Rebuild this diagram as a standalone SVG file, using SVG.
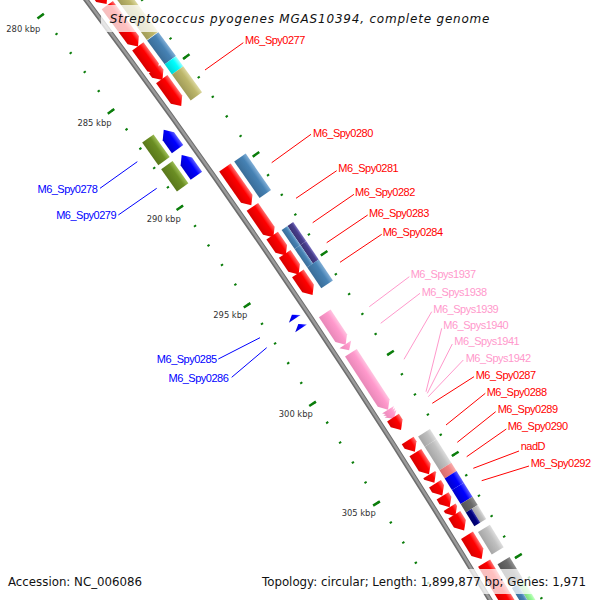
<svg xmlns="http://www.w3.org/2000/svg" width="600" height="600" viewBox="0 0 600 600">
<defs>
<linearGradient id="gR" x1="0" y1="0" x2="0" y2="1"><stop offset="0" stop-color="#ff7070"/><stop offset="0.35" stop-color="#ff0000"/><stop offset="1" stop-color="#d80000"/></linearGradient>
<linearGradient id="gP" x1="0" y1="0" x2="0" y2="1"><stop offset="0" stop-color="#ffc4e1"/><stop offset="0.35" stop-color="#ff99cc"/><stop offset="1" stop-color="#e888b8"/></linearGradient>
<linearGradient id="gB" x1="0" y1="0" x2="0" y2="1"><stop offset="0" stop-color="#6060ff"/><stop offset="0.35" stop-color="#0000ff"/><stop offset="1" stop-color="#0000cc"/></linearGradient>
<linearGradient id="gSB" x1="0" y1="0" x2="0" y2="1"><stop offset="0" stop-color="#80aed6"/><stop offset="0.35" stop-color="#4682b4"/><stop offset="1" stop-color="#3a6d98"/></linearGradient>
<linearGradient id="gK" x1="0" y1="0" x2="0" y2="1"><stop offset="0" stop-color="#dcd8a0"/><stop offset="0.35" stop-color="#bdb76b"/><stop offset="1" stop-color="#a09b58"/></linearGradient>
<linearGradient id="gC" x1="0" y1="0" x2="0" y2="1"><stop offset="0" stop-color="#9affff"/><stop offset="0.35" stop-color="#00ffff"/><stop offset="1" stop-color="#00d4d4"/></linearGradient>
<linearGradient id="gO" x1="0" y1="0" x2="0" y2="1"><stop offset="0" stop-color="#9cbd55"/><stop offset="0.35" stop-color="#6b8e23"/><stop offset="1" stop-color="#5a781c"/></linearGradient>
<linearGradient id="gD" x1="0" y1="0" x2="0" y2="1"><stop offset="0" stop-color="#7a6fc0"/><stop offset="0.35" stop-color="#483d8b"/><stop offset="1" stop-color="#3b3273"/></linearGradient>
<linearGradient id="gS" x1="0" y1="0" x2="0" y2="1"><stop offset="0" stop-color="#dedede"/><stop offset="0.35" stop-color="#c0c0c0"/><stop offset="1" stop-color="#a6a6a6"/></linearGradient>
<linearGradient id="gLC" x1="0" y1="0" x2="0" y2="1"><stop offset="0" stop-color="#f7b0b0"/><stop offset="0.35" stop-color="#f08080"/><stop offset="1" stop-color="#d66e6e"/></linearGradient>
<linearGradient id="gDG" x1="0" y1="0" x2="0" y2="1"><stop offset="0" stop-color="#909090"/><stop offset="0.35" stop-color="#696969"/><stop offset="1" stop-color="#555555"/></linearGradient>
<linearGradient id="gN" x1="0" y1="0" x2="0" y2="1"><stop offset="0" stop-color="#3c3ca8"/><stop offset="0.35" stop-color="#000080"/><stop offset="1" stop-color="#00006a"/></linearGradient>
<linearGradient id="gPG" x1="0" y1="0" x2="0" y2="1"><stop offset="0" stop-color="#c8fdc8"/><stop offset="0.35" stop-color="#98fb98"/><stop offset="1" stop-color="#7fd67f"/></linearGradient>
</defs>
<style>
.lbl{font-family:"Liberation Sans",Arial,sans-serif;font-size:11px;letter-spacing:-0.5px}
.lr{fill:#ff0000}.lb{fill:#0000ff;text-anchor:end}.lp{fill:#ff99cc}
.cr{stroke:#ff0000}.cb{stroke:#0000ff}.cp{stroke:#ff99cc}
#connectors line{stroke-width:1}
.kb{font-family:"DejaVu Sans",sans-serif;font-size:8.4px;fill:#333;text-anchor:middle}
.tick{fill:none;stroke:#0b7d0b}
.hd{font-family:"DejaVu Sans",sans-serif;fill:#111}
</style>
<rect width="600" height="600" fill="#ffffff"/>

<g id="rulers" transform="translate(-5681.7 4319.7)">
<circle r="7162" transform="rotate(-37.89135)" class="tick" stroke-width="2.5" stroke-dasharray="2 21.6859" stroke-dashoffset="1"/>
<circle r="7160" transform="rotate(-37.89135)" class="tick" stroke-width="8" stroke-dasharray="2.5 115.896" stroke-dashoffset="1.25"/>
<circle r="7251" transform="rotate(-37.89135)" class="tick" stroke-width="2.5" stroke-dasharray="2 21.9802" stroke-dashoffset="1"/>
<circle r="7253" transform="rotate(-37.89135)" class="tick" stroke-width="8" stroke-dasharray="2.5 117.434" stroke-dashoffset="1.25"/>
</g>
<g id="ruler-labels">
<text class="kb" x="23.3" y="31.7">280 kbp</text>
<text class="kb" x="94.5" y="126">285 kbp</text>
<text class="kb" x="163.7" y="221.7">290 kbp</text>
<text class="kb" x="230.3" y="318.3">295 kbp</text>
<text class="kb" x="295.8" y="416.7">300 kbp</text>
<text class="kb" x="358.7" y="515.7">305 kbp</text>
</g>

<g id="backbone" transform="translate(-5681.7 4319.7)">
<circle r="7206" fill="none" stroke="#6e6e6e" stroke-width="5"/>
<circle r="7206.3" fill="none" stroke="#9a9a9a" stroke-width="2.4"/>
</g>

<g id="connectors">
<line class="cr" x1="205" y1="70" x2="243.3" y2="42.7"/>
<line class="cr" x1="271.7" y1="162.7" x2="311" y2="134.3"/>
<line class="cr" x1="296" y1="198.3" x2="336.7" y2="170.7"/>
<line class="cr" x1="312.7" y1="222.7" x2="354" y2="194.3"/>
<line class="cr" x1="326.7" y1="242.7" x2="367.7" y2="215"/>
<line class="cr" x1="340" y1="262.3" x2="381.7" y2="234.3"/>
<line class="cp" x1="369.3" y1="306.7" x2="409.3" y2="276.7"/>
<line class="cp" x1="380.7" y1="323.3" x2="420" y2="293.3"/>
<line class="cp" x1="404" y1="359.3" x2="431.7" y2="311.7"/>
<line class="cp" x1="426" y1="391.7" x2="441.7" y2="328.3"/>
<line class="cp" x1="427.3" y1="393.3" x2="452.3" y2="344"/>
<line class="cp" x1="428.3" y1="396.7" x2="463.3" y2="360"/>
<line class="cr" x1="432.3" y1="403.3" x2="474" y2="376.7"/>
<line class="cr" x1="446" y1="425" x2="485.3" y2="393.3"/>
<line class="cr" x1="457.3" y1="442.3" x2="495.7" y2="411.7"/>
<line class="cr" x1="466.7" y1="456.7" x2="506.3" y2="429"/>
<line class="cr" x1="473.3" y1="468.3" x2="519" y2="451"/>
<line class="cr" x1="481.7" y1="480.7" x2="529" y2="466"/>
<line class="cb" x1="137.3" y1="161.7" x2="100" y2="188.3"/>
<line class="cb" x1="156.7" y1="188.3" x2="118.3" y2="215"/>
<line class="cb" x1="260" y1="337.7" x2="218.3" y2="359"/>
<line class="cb" x1="266.7" y1="347.7" x2="231.7" y2="377.3"/>
</g>

<g id="gene_281k">
<polygon transform="translate(-5681.7 4319.7) rotate(53.1271) translate(0 -7220)" points="-20.9,-7 12.9,-7 20.9,0 12.9,7 -20.9,7" fill="url(#gR)"/>
<rect transform="translate(-5681.7 4319.7) rotate(53.1271) translate(0 -7238)" x="-20.95" y="-7" width="41.89" height="14" fill="url(#gK)"/>
</g>
<g id="gene_282k">
<polygon transform="translate(-5681.7 4319.7) rotate(53.5071) translate(0 -7220)" points="-25.79,-7 17.79,-7 25.79,0 17.79,7 -25.79,7" fill="url(#gR)"/>
<rect transform="translate(-5681.7 4319.7) rotate(53.5071) translate(0 -7238)" x="-25.85" y="-7" width="51.7" height="14" fill="url(#gK)"/>
</g>
<g id="gene_284k">
<polygon transform="translate(-5681.7 4319.7) rotate(53.8443) translate(0 -7220)" points="-16.96,-7 8.96,-7 16.96,0 8.96,7 -16.96,7" fill="url(#gR)"/>
<rect transform="translate(-5681.7 4319.7) rotate(53.833) translate(0 -7238)" x="-14.84" y="-7" width="29.68" height="14" fill="url(#gSB)"/>
</g>
<g id="gene_285k">
<polygon transform="translate(-5681.7 4319.7) rotate(53.9874) translate(0 -7220)" points="-6.8,-7 -1.2,-7 6.8,0 -1.2,7 -6.8,7" fill="url(#gR)"/>
<rect transform="translate(-5681.7 4319.7) rotate(53.9997) translate(0 -7238)" x="-6.23" y="-7" width="12.45" height="14" fill="url(#gC)"/>
</g>
<g id="M6_Spy0277">
<polygon transform="translate(-5681.7 4319.7) rotate(54.1636) translate(0 -7220)" points="-16.6,-7 8.6,-7 16.6,0 8.6,7 -16.6,7" fill="url(#gR)"/>
<rect transform="translate(-5681.7 4319.7) rotate(54.1759) translate(0 -7238)" x="-16.04" y="-7" width="32.08" height="14" fill="url(#gK)"/>
<text class="lbl lr" x="245" y="43.5">M6_Spy0277</text>
</g>
<g id="M6_Spy0278">
<polygon transform="translate(-5681.7 4319.7) rotate(54.4621) translate(0 -7192)" points="11.9,-7 -3.9,-7 -11.9,0 -3.9,7 11.9,7" fill="url(#gB)"/>
<rect transform="translate(-5681.7 4319.7) rotate(54.4611) translate(0 -7174)" x="-13.88" y="-7" width="27.76" height="14" fill="url(#gO)"/>
<text class="lbl lb" x="97.3" y="193.3">M6_Spy0278</text>
</g>
<g id="M6_Spy0279">
<polygon transform="translate(-5681.7 4319.7) rotate(54.715) translate(0 -7192)" points="12.73,-7 -4.73,-7 -12.73,0 -4.73,7 12.73,7" fill="url(#gB)"/>
<rect transform="translate(-5681.7 4319.7) rotate(54.7207) translate(0 -7174)" x="-13.64" y="-7" width="27.28" height="14" fill="url(#gO)"/>
<text class="lbl lb" x="116" y="219.3">M6_Spy0279</text>
</g>
<g id="M6_Spy0280">
<polygon transform="translate(-5681.7 4319.7) rotate(55.077) translate(0 -7220)" points="-23.04,-7 15.04,-7 23.04,0 15.04,7 -23.04,7" fill="url(#gR)"/>
<rect transform="translate(-5681.7 4319.7) rotate(55.0732) translate(0 -7238)" x="-22.14" y="-7" width="44.28" height="14" fill="url(#gSB)"/>
<text class="lbl lr" x="313" y="136.5">M6_Spy0280</text>
</g>
<g id="M6_Spy0281">
<polygon transform="translate(-5681.7 4319.7) rotate(55.4218) translate(0 -7220)" points="-18.5,-7 10.5,-7 18.5,0 10.5,7 -18.5,7" fill="url(#gR)"/>
<text class="lbl lr" x="338.3" y="172.3">M6_Spy0281</text>
</g>
<g id="M6_Spy0282">
<polygon transform="translate(-5681.7 4319.7) rotate(55.6473) translate(0 -7220)" points="-12.06,-7 4.06,-7 12.06,0 4.06,7 -12.06,7" fill="url(#gR)"/>
<g transform="translate(-5681.7 4319.7) rotate(55.6483) translate(0 -7238)">
<rect x="-11.49" y="-7" width="22.98" height="7" fill="url(#gD)"/>
<rect x="-11.49" y="0" width="22.98" height="7" fill="url(#gSB)"/>
</g>
<text class="lbl lr" x="355" y="195.7">M6_Spy0282</text>
</g>
<g id="M6_Spy0283">
<polygon transform="translate(-5681.7 4319.7) rotate(55.8264) translate(0 -7220)" points="-12.42,-7 4.42,-7 12.42,0 4.42,7 -12.42,7" fill="url(#gR)"/>
<g transform="translate(-5681.7 4319.7) rotate(55.8273) translate(0 -7238)">
<rect x="-11.13" y="-7" width="22.26" height="7" fill="url(#gD)"/>
<rect x="-11.13" y="0" width="22.26" height="7" fill="url(#gSB)"/>
</g>
<text class="lbl lr" x="369" y="217.3">M6_Spy0283</text>
</g>
<g id="M6_Spy0284">
<polygon transform="translate(-5681.7 4319.7) rotate(56.0178) translate(0 -7220)" points="-13.14,-7 5.14,-7 13.14,0 5.14,7 -13.14,7" fill="url(#gR)"/>
<rect transform="translate(-5681.7 4319.7) rotate(56.0159) translate(0 -7238)" x="-12.69" y="-7" width="25.37" height="14" fill="url(#gSB)"/>
<text class="lbl lr" x="382.7" y="236">M6_Spy0284</text>
</g>
<g id="M6_Spy0285">
<polygon transform="translate(-5681.7 4319.7) rotate(56.1798) translate(0 -7192)" points="2.5,-7 -2.5,0 2.5,7" fill="url(#gB)"/>
<text class="lbl lb" x="216.7" y="363.3">M6_Spy0285</text>
</g>
<g id="M6_Spy0286">
<polygon transform="translate(-5681.7 4319.7) rotate(56.2707) translate(0 -7192)" points="2.5,-7 -2.5,0 2.5,7" fill="url(#gB)"/>
<text class="lbl lb" x="228.3" y="382.3">M6_Spy0286</text>
</g>
<g id="M6_Spys1937">
<polygon transform="translate(-5681.7 4319.7) rotate(56.446) translate(0 -7220)" points="-18.87,-7 10.87,-7 18.87,0 10.87,7 -18.87,7" fill="url(#gP)"/>
<text class="lbl lp" x="410.7" y="278.3">M6_Spys1937</text>
</g>
<g id="M6_Spys1938">
<polygon transform="translate(-5681.7 4319.7) rotate(56.6194) translate(0 -7220)" points="-3.46,-7 3.46,0 -3.46,7" fill="url(#gP)"/>
<text class="lbl lp" x="421.7" y="295.7">M6_Spys1938</text>
</g>
<g id="M6_Spys1939">
<polygon transform="translate(-5681.7 4319.7) rotate(56.9415) translate(0 -7220)" points="-34.03,-7 26.03,-7 34.03,0 26.03,7 -34.03,7" fill="url(#gP)"/>
<text class="lbl lp" x="433.3" y="313.3">M6_Spys1939</text>
</g>
<g id="M6_Spys1940">
<polygon transform="translate(-5681.7 4319.7) rotate(57.2352) translate(0 -7220)" points="-2.99,-7 2.99,0 -2.99,7" fill="url(#gP)"/>
<text class="lbl lp" x="443.3" y="329.3">M6_Spys1940</text>
</g>
<g id="M6_Spys1941">
<polygon transform="translate(-5681.7 4319.7) rotate(57.2541) translate(0 -7220)" points="-2.99,-7 2.99,0 -2.99,7" fill="url(#gP)"/>
<text class="lbl lp" x="454.3" y="345.3">M6_Spys1941</text>
</g>
<g id="M6_Spys1942">
<polygon transform="translate(-5681.7 4319.7) rotate(57.2731) translate(0 -7220)" points="-2.99,-7 2.99,0 -2.99,7" fill="url(#gP)"/>
<text class="lbl lp" x="465.7" y="362">M6_Spys1942</text>
</g>
<g id="M6_Spy0287">
<polygon transform="translate(-5681.7 4319.7) rotate(57.3442) translate(0 -7220)" points="-7.4,-7 -0.6,-7 7.4,0 -0.6,7 -7.4,7" fill="url(#gR)"/>
<text class="lbl lr" x="475.7" y="379">M6_Spy0287</text>
</g>
<g id="M6_Spy0288">
<polygon transform="translate(-5681.7 4319.7) rotate(57.5545) translate(0 -7220)" points="-6.69,-7 -1.31,-7 6.69,0 -1.31,7 -6.69,7" fill="url(#gR)"/>
<rect transform="translate(-5681.7 4319.7) rotate(57.5668) translate(0 -7238)" x="-6.11" y="-7" width="12.21" height="14" fill="url(#gS)"/>
<text class="lbl lr" x="486.7" y="395.7">M6_Spy0288</text>
</g>
<g id="M6_Spy0289">
<polygon transform="translate(-5681.7 4319.7) rotate(57.7165) translate(0 -7220)" points="-12.78,-7 4.78,-7 12.78,0 4.78,7 -12.78,7" fill="url(#gR)"/>
<rect transform="translate(-5681.7 4319.7) rotate(57.725) translate(0 -7238)" x="-13.89" y="-7" width="27.77" height="14" fill="url(#gS)"/>
<text class="lbl lr" x="497.7" y="413.3">M6_Spy0289</text>
</g>
<g id="M6_Spy0290">
<polygon transform="translate(-5681.7 4319.7) rotate(57.8596) translate(0 -7220)" points="-4.78,-7 -3.22,-7 4.78,0 -3.22,7 -4.78,7" fill="url(#gR)"/>
<rect transform="translate(-5681.7 4319.7) rotate(57.8738) translate(0 -7238)" x="-4.91" y="-7" width="9.81" height="14" fill="url(#gLC)"/>
<text class="lbl lr" x="507.7" y="430">M6_Spy0290</text>
</g>
<g id="nadD">
<polygon transform="translate(-5681.7 4319.7) rotate(57.9619) translate(0 -7220)" points="-6.93,-7 -1.07,-7 6.93,0 -1.07,7 -6.93,7" fill="url(#gR)"/>
<rect transform="translate(-5681.7 4319.7) rotate(57.9666) translate(0 -7238)" x="-6.82" y="-7" width="13.64" height="14" fill="url(#gB)"/>
<text class="lbl lr" x="520.7" y="450">nadD</text>
</g>
<g id="M6_Spy0292">
<polygon transform="translate(-5681.7 4319.7) rotate(58.0737) translate(0 -7220)" points="-6.69,-7 -1.31,-7 6.69,0 -1.31,7 -6.69,7" fill="url(#gR)"/>
<rect transform="translate(-5681.7 4319.7) rotate(58.086) translate(0 -7238)" x="-8.26" y="-7" width="16.52" height="14" fill="url(#gB)"/>
<text class="lbl lr" x="530.7" y="466.7">M6_Spy0292</text>
</g>
<g id="gene_307k">
<polygon transform="translate(-5681.7 4319.7) rotate(58.1694) translate(0 -7220)" points="-5.38,-7 -2.62,-7 5.38,0 -2.62,7 -5.38,7" fill="url(#gR)"/>
<rect transform="translate(-5681.7 4319.7) rotate(58.1902) translate(0 -7238)" x="-4.91" y="-7" width="9.81" height="14" fill="url(#gDG)"/>
</g>
<g id="gene_307_5k">
<polygon transform="translate(-5681.7 4319.7) rotate(58.2707) translate(0 -7220)" points="-9.31,-7 1.31,-7 9.31,0 1.31,7 -9.31,7" fill="url(#gR)"/>
<g transform="translate(-5681.7 4319.7) rotate(58.2935) translate(0 -7238)">
<rect x="-8.14" y="-7" width="16.28" height="7" fill="url(#gS)"/>
<rect x="-8.14" y="0" width="16.28" height="7" fill="url(#gN)"/>
</g>
</g>
<g id="gene_308_7k">
<polygon transform="translate(-5681.7 4319.7) rotate(58.4991) translate(0 -7220)" points="-13.97,-7 5.97,-7 13.97,0 5.97,7 -13.97,7" fill="url(#gR)"/>
<rect transform="translate(-5681.7 4319.7) rotate(58.5171) translate(0 -7238)" x="-13.17" y="-7" width="26.33" height="14" fill="url(#gS)"/>
</g>
<g id="gene_310k">
<polygon transform="translate(-5681.7 4319.7) rotate(58.8837) translate(0 -7220)" points="-29.73,-7 21.73,-7 29.73,0 21.73,7 -29.73,7" fill="url(#gR)"/>
<rect transform="translate(-5681.7 4319.7) rotate(58.8108) translate(0 -7238)" x="-12.69" y="-7" width="25.37" height="14" fill="url(#gDG)"/>
</g>
<g id="gene_311k">
<g transform="translate(-5681.7 4319.7) rotate(59.0723) translate(0 -7238)">
<rect x="-17.96" y="-7" width="35.91" height="7" fill="url(#gPG)"/>
<rect x="-17.96" y="0" width="35.91" height="7" fill="url(#gSB)"/>
</g>
</g>

<g id="title">
<rect x="101" y="5" width="398" height="27" fill="#ffffff" fill-opacity="0.75"/>
<text class="hd" x="300" y="23" font-size="12" font-style="italic" letter-spacing="0.8" text-anchor="middle">Streptococcus pyogenes MGAS10394, complete genome</text>
</g>
<g id="footer">
<rect x="4" y="569" width="144" height="25" fill="#ffffff" fill-opacity="0.75"/>
<rect x="256" y="569" width="340" height="25" fill="#ffffff" fill-opacity="0.75"/>
<text class="hd" x="8" y="586" font-size="11.8">Accession: NC_006086</text>
<text class="hd" x="262" y="586" font-size="11.8">Topology: circular; Length: 1,899,877 bp; Genes: 1,971</text>
</g>
</svg>
